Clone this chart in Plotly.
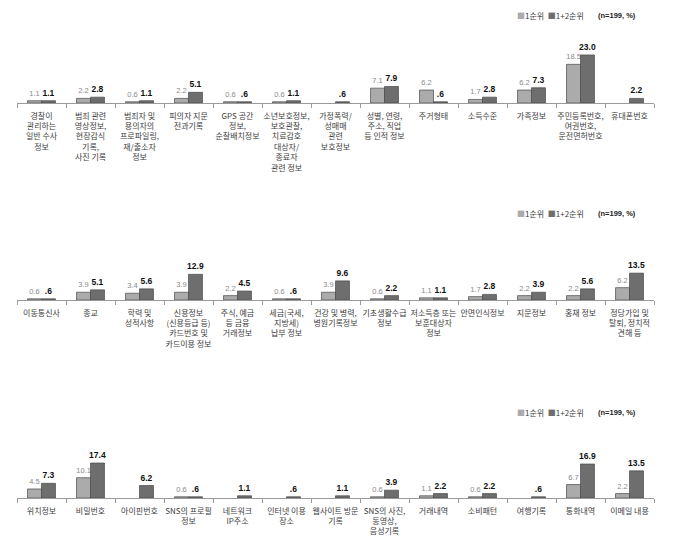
import plotly.graph_objects as go

# ---------------- data ----------------
series_names = ["1순위", "1+2순위"]

cats1 = ["경찰이<br>관리하는<br>일반 수사<br>정보",
         "범죄 관련<br>영상정보,<br>현장감식<br>기록,<br>사진 기록",
         "범죄자 및<br>용의자의<br>프로파일링,<br>재/출소자<br>정보",
         "피의자 지문<br>전과기록",
         "GPS 공간<br>정보,<br>순찰배치정보",
         "소년보호정보,<br>보호관찰,<br>치료감호<br>대상자/<br>종료자<br>관련 정보",
         "가정폭력/<br>성매매<br>관련<br>보호정보",
         "성별, 연령,<br>주소, 직업<br>등 인적 정보",
         "주거형태", "소득수준", "가족정보",
         "주민등록번호,<br>여권번호,<br>운전면허번호",
         "휴대폰번호"]
first1 = [1.1, 2.2, 0.6, 2.2, 0.6, 0.6, None, 7.1, 6.2, 1.7, 6.2, 18.5, None]
both1 = [1.1, 2.8, 1.1, 5.1, 0.6, 1.1, 0.6, 7.9, 0.6, 2.8, 7.3, 23.0, 2.2]

cats2 = ["이동통신사", "종교", "학력 및<br>성적사항",
         "신용정보<br>(신용등급 등)<br>카드번호 및<br>카드이용 정보",
         "주식, 예금<br>등 금융<br>거래정보",
         "세금(국세,<br>지방세)<br>납부 정보",
         "건강 및 병력,<br>병원기록정보",
         "기초생활수급<br>정보",
         "저소득층 또는<br>보훈대상자<br>정보",
         "안면인식정보", "지문정보", "홍채 정보",
         "정당가입 및<br>탈퇴, 정치적<br>견해 등"]
first2 = [0.6, 3.9, 3.4, 3.9, 2.2, 0.6, 3.9, 0.6, 1.1, 1.7, 2.2, 2.2, 6.2]
both2 = [0.6, 5.1, 5.6, 12.9, 4.5, 0.6, 9.6, 2.2, 1.1, 2.8, 3.9, 5.6, 13.5]

cats3 = ["위치정보", "비밀번호", "아이핀번호",
         "SNS의 프로필<br>정보", "네트워크<br>IP주소", "인터넷 이용<br>장소",
         "웹사이트 방문<br>기록", "SNS의 사진,<br>동영상,<br>음성기록",
         "거래내역", "소비패턴", "여행기록", "통화내역", "이메일 내용"]
first3 = [4.5, 10.1, None, 0.6, None, None, None, 0.6, 1.1, 0.6, None, 6.7, 2.2]
both3 = [7.3, 17.4, 6.2, 0.6, 1.1, 0.6, 1.1, 3.9, 2.2, 2.2, 0.6, 16.9, 13.5]

note_text = "(n=199, %)"

# ---------------- style ----------------
W, H = 674, 554
C_LIGHT = "#ababab"
C_DARK = "#6e6e6e"
C_EDGE = "#4a4a4a"
KFONT = "Noto Sans CJK KR"
NFONT = "Liberation Sans, Arial, sans-serif"


def fmt_first(v):
    return "" if v is None else f"{v:.1f}"


def fmt_both(v):
    if v is None:
        return ""
    s = f"{v:.1f}"
    return s[1:] if s.startswith("0") else s


# pixel layout of each panel: (baseline px, px per unit, legend y px)
panels = [
    (cats1, first1, both1, 103, 2.09, 15),
    (cats2, first2, both2, 300, 1.99, 213),
    (cats3, first3, both3, 498, 2.01, 412),
]
YMAX = 35
x_left, x_right = 17, 654

fig = go.Figure()
layout = dict(
    width=W, height=H, margin=dict(l=0, r=0, t=0, b=0),
    paper_bgcolor="white", plot_bgcolor="white",
    barmode="group", bargap=0.43, bargroupgap=0.0,
    showlegend=False, annotations=[],
)

for i, (cats, f, b, base, scale, legy) in enumerate(panels):
    n = "" if i == 0 else str(i + 1)
    xa, ya = "x" + n, "y" + n
    fig.add_trace(go.Bar(
        x=cats, y=f, name=series_names[0], xaxis=xa, yaxis=ya,
        marker=dict(color=C_LIGHT, line=dict(color=C_EDGE, width=0.7)),
        text=[fmt_first(v) for v in f], textposition="outside",
        textfont=dict(family=NFONT, size=7.5, color="#8a8a8a"),
        constraintext="none", cliponaxis=False, hoverinfo="x+y",
    ))
    fig.add_trace(go.Bar(
        x=cats, y=b, name=series_names[1], xaxis=xa, yaxis=ya,
        marker=dict(color=C_DARK, line=dict(color=C_EDGE, width=0.7)),
        text=[fmt_both(v) for v in b], textposition="outside",
        textfont=dict(family=NFONT, size=8.5, color="#111111", weight="bold"),
        constraintext="none", cliponaxis=False, hoverinfo="x+y",
    ))
    top = base - YMAX * scale
    layout["xaxis" + n] = dict(
        domain=[x_left / W, x_right / W], anchor=ya,
        type="category", showline=True, linecolor="#9a9a9a", linewidth=1,
        ticks="outside", tickson="boundaries", ticklen=4, tickcolor="#9a9a9a",
        tickangle=0, showgrid=False, zeroline=False, ticklabelstandoff=5,
        tickfont=dict(family=KFONT, size=8, color="#404040"),
        fixedrange=True,
    )
    layout["yaxis" + n] = dict(
        domain=[1 - base / H, 1 - top / H], anchor=xa,
        range=[0, YMAX], visible=False, fixedrange=True,
    )
    layout["annotations"].append(dict(
        xref="paper", yref="paper", x=515 / W, y=1 - legy / H,
        xanchor="left", yanchor="middle", showarrow=False,
        text=(f'<span style="color:{C_LIGHT}">■</span>{series_names[0]}  '
              f'<span style="color:{C_DARK}">■</span>{series_names[1]}'),
        font=dict(family=KFONT, size=8, color="#404040"),
    ))
    layout["annotations"].append(dict(
        xref="paper", yref="paper", x=617 / W, y=1 - legy / H,
        xanchor="center", yanchor="middle", showarrow=False,
        text=f"<b>{note_text}</b>",
        font=dict(family=NFONT, size=7.5, color="#222222"),
    ))

fig.update_layout(**layout)
fig.write_html("out.html")
